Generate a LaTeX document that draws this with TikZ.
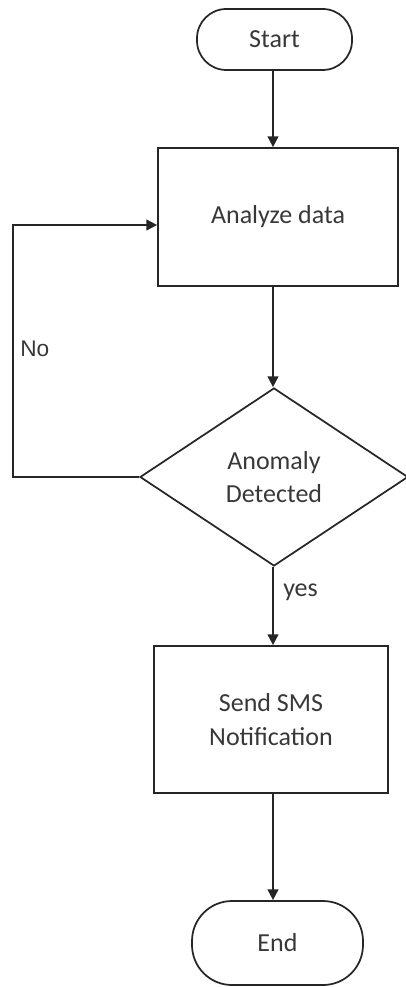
\documentclass[tikz,border=0pt]{standalone}
\usepackage{fontspec}
\setmainfont{Carlito}
\newfontfamily\arialfont{Liberation Sans}
\usetikzlibrary{shapes.geometric,arrows.meta}
\definecolor{ink}{HTML}{262626}
\definecolor{txt}{HTML}{383838}
\tikzset{
  base/.style={draw=ink, line width=1.3pt, text=txt, font=\fontsize{19.5}{25}\selectfont, align=center, inner sep=0pt},
  term/.style={base, rectangle, rounded corners=#1},
  procbox/.style={base, rectangle},
  decision/.style={base, diamond},
  conn/.style={draw=ink, line width=1.3pt, -{Triangle[length=8pt,width=8pt]}},
  lbl/.style={text=txt, inner sep=0pt}
}
\begin{document}
\begin{tikzpicture}[x=0.75pt,y=-0.75pt]
\useasboundingbox (0,0) rectangle (406,987);
\coordinate (ax) at (273,0);
\node[term=22pt, minimum width=116.25pt, minimum height=45.75pt] (start) at (274.5,39.5) {Start};
\node[procbox, minimum width=180pt, minimum height=103.5pt] (an) at (278,217) {Analyze data};
\node[decision, minimum width=201pt, minimum height=133.5pt] (dia) at (274,477) {Anomaly\\Detected};
\node[procbox, minimum width=175.5pt, minimum height=110.25pt] (sms) at (271,719.5) {Send SMS\\Notification};
\node[term=30pt, minimum width=128.25pt, minimum height=63pt] (end) at (277.5,943) {End};
\coordinate (lb) at (13,477);
\coordinate (lt) at (13,225);
\draw[conn] (start.south -| ax) -- (an.north -| ax);
\draw[conn] (an.south -| ax) -- (dia.north -| ax);
\draw[conn] (dia.south -| ax) -- (sms.north -| ax);
\draw[conn] (sms.south -| ax) -- (end.north -| ax);
\draw[conn] (dia.west) -- (lb) -- (lt) -- (lt -| an.west);
\node[lbl, font=\arialfont\fontsize{17}{20}\selectfont, anchor=west] (no) at (20,349) {No};
\node[lbl, font=\fontsize{19.5}{25}\selectfont, anchor=west] (yes) at (283,592) {yes};
\end{tikzpicture}
\end{document}
